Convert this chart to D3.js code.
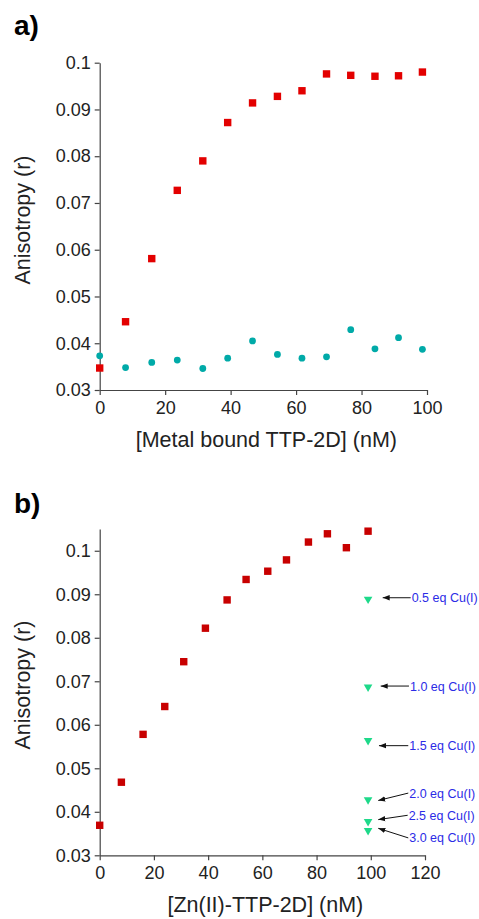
<!DOCTYPE html>
<html>
<head>
<meta charset="utf-8">
<script src="https://cdn.jsdelivr.net/npm/d3@7"></script>
<style>
  body { margin: 0; background: #fff; }
  svg { display: block; font-family: "Liberation Sans", Arial, sans-serif; }
</style>
</head>
<body>
<div class="chart"></div>
<script>
// panel a: metal bound TTP-2D
const concA = [0, 7.9, 15.9, 23.7, 31.5, 39.1, 46.7, 54.3, 61.8, 69.3, 76.7, 84.1, 91.3, 98.6];
const redA = [0.0347, 0.0446, 0.0581, 0.0727, 0.0790, 0.0872, 0.0914, 0.0928, 0.0940, 0.0976, 0.0973, 0.0971, 0.0972, 0.0980];
const tealA = [0.0373, 0.0348, 0.0359, 0.0364, 0.0346, 0.0368, 0.0405, 0.0376, 0.0368, 0.0371, 0.0429, 0.0388, 0.0412, 0.0387];

// panel b: Zn(II)-TTP-2D
const concB = [0, 8, 16, 24, 31, 39, 47, 54, 62, 68.9, 77, 84, 91, 99];
const redB = [0.0369, 0.0468, 0.0578, 0.0642, 0.0745, 0.0822, 0.0887, 0.0934, 0.0953, 0.0979, 0.1020, 0.1039, 0.1007, 0.1045];
const cuConc = 99;
const cuLabels = ['0.5 eq Cu(I)', '1.0 eq Cu(I)', '1.5 eq Cu(I)', '2.0 eq Cu(I)', '2.5 eq Cu(I)', '3.0 eq Cu(I)'];
const cuValues = [0.0890, 0.0688, 0.0565, 0.0429, 0.0379, 0.0358];
const cuArrowTo = [0.0892, 0.0689, 0.0552, 0.0426, 0.0382, 0.0362];
const cuLabelAt = [0.0892, 0.0689, 0.0552, 0.0443, 0.0392, 0.0340];

const ticksAx = [0, 20, 40, 60, 80, 100];
const ticksBx = [0, 20, 40, 60, 80, 100, 120];
const ticksY = [0.03, 0.04, 0.05, 0.06, 0.07, 0.08, 0.09, 0.1];

const W = 479, H = 919;
const svg = d3.select('.chart').append('svg')
  .attr('width', W).attr('height', H);

svg.append('defs').append('marker')
  .attr('id', 'head')
  .attr('viewBox', '0 0 10 10')
  .attr('refX', 10).attr('refY', 5)
  .attr('markerWidth', 7).attr('markerHeight', 7)
  .attr('markerUnits', 'userSpaceOnUse')
  .attr('orient', 'auto')
  .append('path').attr('d', 'M0,1.2 L10,5 L0,8.8 Z').attr('fill', '#111');

function drawPanel(cfg) {
  const g = svg.append('g');
  const x = d3.scaleLinear().domain(cfg.xDomain).range(cfg.xRange);
  const y = d3.scaleLinear().domain(cfg.yDomain).range(cfg.yRange);

  const xAxis = g.append('g')
    .attr('transform', `translate(0,${cfg.yRange[0]})`)
    .call(d3.axisBottom(x).tickValues(cfg.xTicks).tickSize(5).tickPadding(6).tickSizeOuter(0));
  const yAxis = g.append('g')
    .attr('transform', `translate(${cfg.xRange[0]},0)`)
    .call(d3.axisLeft(y).tickValues(ticksY).tickSize(5).tickPadding(4).tickSizeOuter(0)
      .tickFormat(d => +d.toFixed(2)));

  [xAxis, yAxis].forEach(a => {
    a.selectAll('path, line').attr('stroke', '#444').attr('stroke-width', 1.2);
    a.selectAll('text').attr('fill', '#222').style('font-size', '18px');
  });

  g.append('text')
    .attr('x', (cfg.xRange[0] + cfg.xRange[1]) / 2 + 3)
    .attr('y', cfg.xTitleY)
    .attr('text-anchor', 'middle')
    .style('font-size', '21.5px').attr('fill', '#222')
    .text(cfg.xTitle);

  g.append('text')
    .attr('transform', `translate(29.5,${cfg.yTitleY}) rotate(-90)`)
    .attr('text-anchor', 'middle')
    .style('font-size', '21.5px').attr('fill', '#222')
    .text('Anisotropy (r)');

  g.append('text')
    .attr('x', 14).attr('y', cfg.letterY)
    .style('font-size', '28px').style('font-weight', 'bold')
    .text(cfg.letter);

  return { g, x, y };
}

// ---- panel a ----
const pa = drawPanel({
  xDomain: [0, 100], xRange: [99.7, 427],
  yDomain: [0.03, 0.1], yRange: [390, 62.7],
  xTicks: ticksAx, xTitle: '[Metal bound TTP-2D] (nM)', xTitleY: 447,
  yTitleY: 220, letter: 'a)', letterY: 35
});

pa.g.selectAll('.red-a')
  .data(concA)
  .enter()
  .append('rect')
  .attr('class', 'red-a')
  .attr('x', (d, i) => pa.x(d) - 3.7)
  .attr('y', (d, i) => pa.y(redA[i]) - 3.7)
  .attr('width', 7.4).attr('height', 7.4)
  .attr('fill', '#e30000');

pa.g.selectAll('.teal-a')
  .data(concA)
  .enter()
  .append('circle')
  .attr('class', 'teal-a')
  .attr('cx', d => pa.x(d))
  .attr('cy', (d, i) => pa.y(tealA[i]))
  .attr('r', 3.4)
  .attr('fill', '#00aaa8');

// ---- panel b ----
const pb = drawPanel({
  xDomain: [0, 120], xRange: [99.7, 425],
  yDomain: [0.03, 0.105], yRange: [855.3, 529],
  xTicks: ticksBx, xTitle: '[Zn(II)-TTP-2D] (nM)', xTitleY: 912,
  yTitleY: 685, letter: 'b)', letterY: 513
});

pb.g.selectAll('.red-b')
  .data(concB)
  .enter()
  .append('rect')
  .attr('class', 'red-b')
  .attr('x', d => pb.x(d) - 3.7)
  .attr('y', (d, i) => pb.y(redB[i]) - 3.7)
  .attr('width', 7.4).attr('height', 7.4)
  .attr('fill', '#c80000');

const tri = d3.symbol().type(d3.symbolTriangle).size(32);
pb.g.selectAll('.cu')
  .data(cuValues)
  .enter()
  .append('path')
  .attr('class', 'cu')
  .attr('d', tri)
  .attr('transform', d => `translate(${pb.x(cuConc)},${pb.y(d) + 0.5}) rotate(180)`)
  .attr('fill', '#1ed98a');

// arrow tips sit a bit right of the triangles, labels further out
const tipGap = [14.6, 12.6, 10.9, 10.2, 10.2, 10.2];
const labelGap = [43.6, 41.9, 41.2, 41.2, 40.6, 41.2];
const ann = pb.g.selectAll('.ann')
  .data(cuLabels)
  .enter()
  .append('g')
  .attr('class', 'ann');

ann.append('line')
  .attr('x1', (d, i) => pb.x(cuConc) + labelGap[i] - 1)
  .attr('y1', (d, i) => pb.y(cuLabelAt[i]))
  .attr('x2', (d, i) => pb.x(cuConc) + tipGap[i])
  .attr('y2', (d, i) => pb.y(cuArrowTo[i]))
  .attr('stroke', '#111').attr('stroke-width', 1)
  .attr('marker-end', 'url(#head)');

ann.append('text')
  .attr('x', (d, i) => pb.x(cuConc) + labelGap[i])
  .attr('y', (d, i) => pb.y(cuLabelAt[i]))
  .attr('dy', '0.36em')
  .style('font-size', '12.5px')
  .attr('fill', '#2b2be6')
  .text(d => d);
</script>
</body>
</html>
